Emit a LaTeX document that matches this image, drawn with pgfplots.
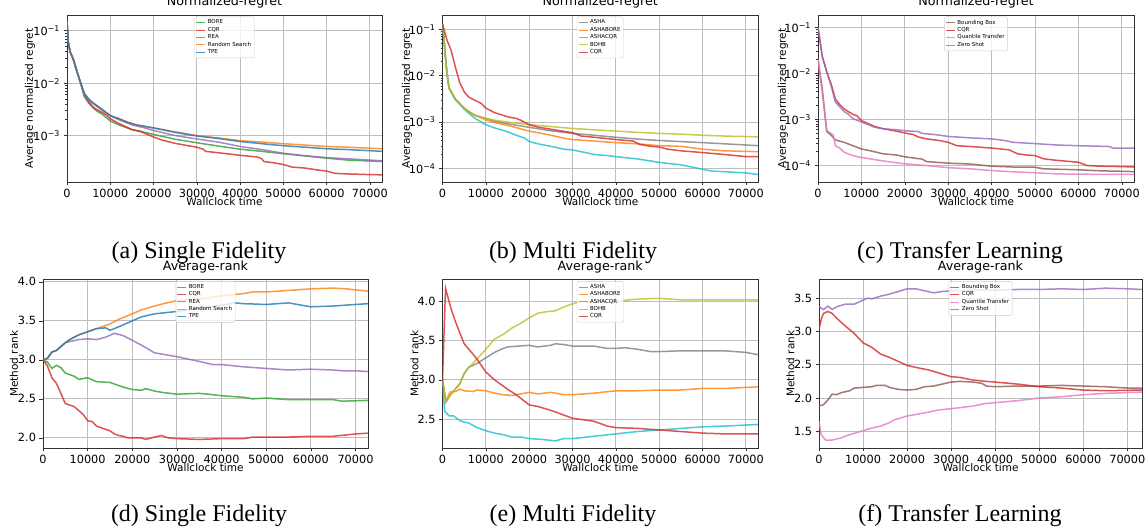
\documentclass[border=0pt]{standalone}
\usepackage{pgfplots}
\pgfplotsset{compat=1.18}
\usepackage{fontspec}
\setmainfont{DejaVu Sans}
\newfontfamily\capfont{Liberation Serif}
\definecolor{tabblue}{RGB}{31,119,180}
\definecolor{taborange}{RGB}{255,127,14}
\definecolor{tabgreen}{RGB}{44,160,44}
\definecolor{tabred}{RGB}{214,39,40}
\definecolor{tabpurple}{RGB}{148,103,189}
\definecolor{tabbrown}{RGB}{140,86,75}
\definecolor{tabpink}{RGB}{227,119,194}
\definecolor{tabgray}{RGB}{127,127,127}
\definecolor{tabolive}{RGB}{188,189,34}
\definecolor{tabcyan}{RGB}{23,190,207}
\definecolor{gridc}{RGB}{190,190,190}
\pgfplotsset{
  myBase/.style={
    scale only axis, xmin=0, xmax=72800,
    grid=major, major grid style={line width=0.9pt, gridc},
    axis line style={line width=0.8pt, black!80},
    tick align=outside, tick pos=left,
    major tick length=3.5pt, minor tick length=2pt,
    tick style={black!80, line width=0.6pt},
    xtick={0,10000,20000,30000,40000,50000,60000,70000},
    xticklabels={0,10000,20000,30000,40000,50000,60000,70000},
    scaled x ticks=false,
    ticklabel style={font=\fontsize{11.3}{12}\selectfont},
    label style={font=\fontsize{10.5}{12}\selectfont},
    title style={font=\fontsize{12.7}{14}\selectfont, at={(0.5,1)}, anchor=south, inner sep=0.3pt},
    xlabel={Wallclock time},
    xlabel style={at={([yshift=-20pt]axis description cs:0.5,0)}, anchor=center},
    legend cell align=left,
    legend image code/.code={\draw[##1, line width=1pt] (0pt,0pt) -- (9pt,0pt);},
    legend style={at={(0.5,0.99)}, anchor=north, font=\fontsize{5.5}{6}\selectfont,
      draw=black!20, fill=white, fill opacity=0.8, text opacity=1,
      rounded corners=1.5pt, inner sep=1pt, row sep=-2.2pt},
    every axis plot/.append style={line width=1.5pt, draw opacity=0.8},
  },
}
\begin{document}
\begin{tikzpicture}
\useasboundingbox (0,0) rectangle (1148pt,527pt);

% (a)
\begin{axis}[myBase, ymode=log, ylabel={Average normalized regret}, title={Normalized-regret},
  at={(67pt,345pt)}, width=315pt, height=167pt,
  ymin=1.3e-4, ymax=0.2, ytick={1e-3,1e-2,1e-1},
  yticklabels={10\textsuperscript{−3},10\textsuperscript{−2},10\textsuperscript{−1}},
  ylabel style={at={([xshift=-37pt]axis description cs:0,0.5)}, anchor=center}]
\addplot[tabgreen] coordinates {(0,0.15) (300,0.06) (700,0.04) (1500,0.028) (2000,0.02) (3000,0.011) (4000,0.0055) (5000,0.0042) (6000,0.0034) (7000,0.0029) (8000,0.0026) (10000,0.0019) (12000,0.0016) (15000,0.0013) (18000,0.00115) (20000,0.00105) (25000,0.00085) (30000,0.00073) (35000,0.00063) (40000,0.00055) (45000,0.0005) (50000,0.00045) (55000,0.00041) (60000,0.00037) (65000,0.00034) (72800,0.00032)};
\addlegendentry{BORE}
\addplot[tabred] coordinates {(0,0.15) (300,0.06) (700,0.04) (1500,0.028) (2000,0.02) (3000,0.011) (4000,0.006) (5000,0.0044) (6000,0.0035) (7000,0.0031) (8000,0.0028) (9000,0.0025) (10000,0.0021) (12000,0.0017) (15000,0.0013) (17000,0.0012) (18000,0.0011) (20000,0.00094) (22000,0.00082) (25000,0.00071) (28000,0.00064) (30000,0.0006) (31500,0.00055) (32000,0.0005) (35000,0.00047) (40000,0.00042) (44000,0.00039) (45000,0.00036) (45500,0.00032) (48000,0.0003) (50000,0.00028) (52000,0.00025) (55000,0.00024) (58000,0.00022) (60000,0.00021) (62000,0.00019) (65000,0.000185) (70000,0.00018) (72800,0.000178)};
\addlegendentry{CQR}
\addplot[tabpurple] coordinates {(0,0.15) (300,0.06) (700,0.04) (1500,0.028) (2000,0.02) (3000,0.011) (4000,0.006) (5000,0.0047) (6000,0.0041) (8000,0.0031) (10000,0.0024) (12000,0.002) (15000,0.0016) (18000,0.0014) (20000,0.00125) (25000,0.001) (30000,0.00086) (35000,0.00075) (40000,0.00062) (45000,0.00054) (50000,0.00046) (55000,0.00041) (60000,0.00038) (65000,0.00036) (72800,0.00033)};
\addlegendentry{REA}
\addplot[taborange] coordinates {(0,0.15) (300,0.06) (700,0.04) (1500,0.028) (2000,0.02) (3000,0.011) (4000,0.0064) (5000,0.005) (6000,0.0042) (8000,0.0032) (10000,0.0024) (12000,0.0021) (14000,0.0018) (16000,0.0016) (20000,0.0014) (25000,0.00118) (30000,0.001) (35000,0.0009) (40000,0.0008) (45000,0.00075) (50000,0.0007) (55000,0.00066) (60000,0.00062) (65000,0.0006) (72800,0.00056)};
\addlegendentry{Random Search}
\addplot[tabblue] coordinates {(0,0.15) (300,0.06) (700,0.04) (1500,0.028) (2000,0.02) (3000,0.011) (4000,0.0064) (5000,0.005) (6000,0.0042) (8000,0.0032) (10000,0.0024) (12000,0.0021) (14000,0.0018) (16000,0.0016) (20000,0.0014) (25000,0.00115) (30000,0.00098) (35000,0.00088) (40000,0.00077) (45000,0.0007) (50000,0.00064) (55000,0.0006) (60000,0.00056) (65000,0.00054) (72800,0.0005)};
\addlegendentry{TPE}
\end{axis}

% (b)
\begin{axis}[myBase, ymode=log, ylabel={Average normalized regret}, title={Normalized-regret},
  at={(442.5pt,345pt)}, width=315.5pt, height=167pt,
  ymin=5.1e-5, ymax=0.204, ytick={1e-4,1e-3,1e-2,1e-1},
  yticklabels={10\textsuperscript{−4},10\textsuperscript{−3},10\textsuperscript{−2},10\textsuperscript{−1}},
  ylabel style={at={([xshift=-35.5pt]axis description cs:0,0.5)}, anchor=center}]
\addplot[tabgray] coordinates {(0,0.13) (300,0.07) (600,0.03) (1000,0.012) (1500,0.0055) (2000,0.0045) (3000,0.0031) (4000,0.0025) (5000,0.002) (6000,0.0017) (7500,0.0014) (10000,0.0012) (12000,0.00105) (15000,0.00092) (20000,0.00077) (25000,0.00065) (30000,0.00057) (35000,0.00052) (40000,0.00047) (45000,0.00043) (50000,0.0004) (55000,0.00038) (60000,0.00036) (65000,0.00034) (72800,0.00031)};
\addlegendentry{ASHA}
\addplot[taborange] coordinates {(0,0.13) (300,0.07) (600,0.03) (1000,0.012) (1500,0.0055) (2000,0.0045) (3000,0.0031) (4000,0.0025) (5000,0.002) (6000,0.0017) (7500,0.0014) (10000,0.00112) (12000,0.00098) (15000,0.00085) (20000,0.00064) (25000,0.00052) (28000,0.00045) (30000,0.00042) (35000,0.00039) (40000,0.00036) (45000,0.00034) (50000,0.00031) (55000,0.0003) (60000,0.00026) (65000,0.00024) (72800,0.00023)};
\addlegendentry{ASHABORE}
\addplot[tabcyan] coordinates {(0,0.13) (300,0.07) (600,0.03) (1000,0.012) (1500,0.0055) (2000,0.0044) (3000,0.003) (4000,0.0024) (5000,0.0019) (7500,0.0012) (10000,0.00088) (12000,0.00075) (15000,0.00062) (17000,0.00052) (19000,0.00045) (20000,0.00038) (22000,0.00034) (25000,0.0003) (28000,0.00026) (30000,0.00025) (33000,0.00022) (35000,0.0002) (38000,0.00019) (40000,0.00018) (45000,0.00016) (48000,0.000145) (50000,0.000135) (53000,0.000125) (55000,0.00012) (58000,0.000105) (60000,0.000096) (62000,0.000088) (65000,0.000085) (70000,0.00008) (72800,0.000074)};
\addlegendentry{ASHACQR}
\addplot[tabolive] coordinates {(0,0.13) (300,0.07) (600,0.03) (1000,0.012) (1500,0.0055) (2000,0.0045) (3000,0.0031) (4000,0.0025) (5000,0.002) (6000,0.0017) (7500,0.0014) (10000,0.0012) (12000,0.0011) (15000,0.001) (20000,0.00088) (25000,0.0008) (30000,0.00073) (35000,0.00068) (40000,0.00064) (45000,0.0006) (50000,0.00057) (55000,0.00055) (60000,0.00052) (65000,0.0005) (72800,0.00048)};
\addlegendentry{BOHB}
\addplot[tabred] coordinates {(0,0.13) (1000,0.06) (2000,0.035) (3000,0.015) (4000,0.007) (5000,0.0045) (6000,0.0035) (7000,0.0031) (8000,0.0028) (9000,0.0025) (10000,0.002) (12000,0.0016) (15000,0.0013) (17000,0.0012) (18000,0.0011) (20000,0.00088) (22000,0.00078) (25000,0.0007) (28000,0.00063) (30000,0.00059) (32000,0.0005) (35000,0.00047) (40000,0.00042) (44000,0.00039) (45500,0.00033) (48000,0.0003) (50000,0.00029) (52000,0.00026) (55000,0.00024) (60000,0.00022) (65000,0.0002) (70000,0.00018) (72800,0.00018)};
\addlegendentry{CQR}
\end{axis}

% (c)
\begin{axis}[myBase, ymode=log, ylabel={Average normalized regret}, title={Normalized-regret},
  at={(818pt,345pt)}, width=316pt, height=167pt,
  ymin=4.4e-5, ymax=0.186, ytick={1e-4,1e-3,1e-2,1e-1},
  yticklabels={10\textsuperscript{−4},10\textsuperscript{−3},10\textsuperscript{−2},10\textsuperscript{−1}},
  ylabel style={at={([xshift=-35pt]axis description cs:0,0.5)}, anchor=center}]
\addplot[tabbrown] coordinates {(0,0.02) (1000,0.0045) (2000,0.00055) (3000,0.00046) (4000,0.00036) (6000,0.00032) (8000,0.00027) (10000,0.00023) (12000,0.00021) (15000,0.00018) (18000,0.00017) (20000,0.000155) (24000,0.000138) (25000,0.000122) (30000,0.000113) (35000,0.000108) (40000,0.000097) (45000,0.000093) (50000,0.000092) (52000,0.000085) (60000,0.000081) (65000,0.000077) (72900,0.000074)};
\addlegendentry{Bounding Box}
\addplot[tabred] coordinates {(0,0.1) (1000,0.023) (2000,0.011) (3000,0.006) (4000,0.0028) (5000,0.0021) (6000,0.0017) (8000,0.0013) (9000,0.0012) (10000,0.00095) (12000,0.00078) (13000,0.00071) (15000,0.00063) (18000,0.00056) (20000,0.00051) (22000,0.00047) (23000,0.00042) (25000,0.00038) (28000,0.00035) (30000,0.00032) (32000,0.00027) (35000,0.00026) (40000,0.00024) (44000,0.00022) (46000,0.00018) (48000,0.00017) (50000,0.000165) (52000,0.00014) (55000,0.00013) (60000,0.000118) (62000,0.0001) (65000,0.000097) (70000,0.000095) (72900,0.000093)};
\addlegendentry{CQR}
\addplot[tabpink] coordinates {(0,0.02) (1000,0.0037) (2000,0.00058) (3000,0.0005) (3500,0.00046) (4000,0.00027) (5000,0.00024) (6000,0.000195) (8000,0.000165) (10000,0.00015) (15000,0.000126) (20000,0.000109) (25000,0.0001) (30000,0.00009) (35000,0.000085) (40000,0.000078) (45000,0.000073) (50000,0.00007) (55000,0.000066) (60000,0.000065) (72900,0.000064)};
\addlegendentry{Quantile Transfer}
\addplot[tabpurple] coordinates {(0,0.1) (1000,0.023) (2000,0.011) (3000,0.0055) (4000,0.0024) (5000,0.0019) (6000,0.0015) (7000,0.0013) (8000,0.00105) (10000,0.00088) (12000,0.00075) (13000,0.00068) (15000,0.00063) (18000,0.0006) (20000,0.00057) (23000,0.00055) (24000,0.0005) (27000,0.00047) (30000,0.00043) (35000,0.0004) (40000,0.00038) (43000,0.00035) (45000,0.00032) (50000,0.0003) (55000,0.00028) (60000,0.00027) (67000,0.00026) (68000,0.00024) (72900,0.00024)};
\addlegendentry{Zero Shot}
\end{axis}

% (d)
\begin{axis}[myBase, ylabel={Method rank}, title={Average-rank},
  at={(43pt,79pt)}, width=325pt, height=168.5pt,
  ymin=1.87, ymax=4.03, ytick={2.0,2.5,3.0,3.5,4.0}, yticklabels={2.0,2.5,3.0,3.5,4.0},
  ylabel style={at={([xshift=-29pt]axis description cs:0,0.5)}, anchor=center}]
\addplot[tabgreen] coordinates {(0,3.0) (1000,2.97) (2000,2.89) (3000,2.93) (4000,2.9) (5000,2.83) (7000,2.79) (8000,2.75) (10000,2.77) (12000,2.72) (15000,2.71) (16000,2.69) (18000,2.65) (20000,2.62) (22000,2.61) (23000,2.63) (25000,2.6) (27000,2.58) (30000,2.56) (35000,2.57) (37000,2.56) (40000,2.54) (45000,2.52) (47000,2.5) (50000,2.51) (55000,2.49) (60000,2.49) (65000,2.49) (67000,2.47) (72800,2.48)};
\addlegendentry{BORE}
\addplot[tabred] coordinates {(0,3.0) (1000,2.92) (2000,2.77) (3000,2.7) (4000,2.57) (5000,2.44) (7000,2.4) (8000,2.35) (9000,2.3) (10000,2.22) (11000,2.21) (12000,2.15) (14000,2.11) (15000,2.09) (16000,2.05) (17000,2.03) (18000,2.02) (19000,2.0) (20000,2.0) (22000,2.0) (23000,1.98) (25000,2.01) (26500,2.03) (28000,2.0) (30000,1.99) (35000,1.98) (40000,1.99) (45000,1.99) (47000,2.01) (50000,2.01) (55000,2.01) (60000,2.02) (65000,2.02) (70000,2.05) (72800,2.06)};
\addlegendentry{CQR}
\addplot[tabpurple] coordinates {(0,3.0) (1000,3.02) (2000,3.1) (3000,3.12) (5000,3.22) (8000,3.26) (10000,3.27) (12000,3.26) (14000,3.29) (16000,3.34) (18000,3.31) (20000,3.25) (22000,3.19) (25000,3.09) (27000,3.07) (30000,3.04) (35000,2.98) (38000,2.94) (40000,2.94) (45000,2.91) (50000,2.89) (55000,2.87) (60000,2.88) (65000,2.87) (67000,2.86) (70000,2.86) (72800,2.85)};
\addlegendentry{REA}
\addplot[taborange] coordinates {(0,3.0) (1000,3.02) (2000,3.1) (3000,3.12) (5000,3.22) (6000,3.26) (8000,3.32) (10000,3.36) (12000,3.4) (15000,3.46) (17000,3.52) (20000,3.59) (22000,3.64) (25000,3.69) (27000,3.72) (30000,3.76) (35000,3.78) (40000,3.82) (45000,3.85) (47000,3.87) (50000,3.87) (55000,3.89) (60000,3.91) (65000,3.92) (68000,3.91) (72800,3.88)};
\addlegendentry{Random Search}
\addplot[tabblue] coordinates {(0,3.0) (1000,3.02) (2000,3.1) (3000,3.12) (5000,3.22) (6000,3.26) (8000,3.32) (10000,3.36) (12000,3.4) (14000,3.41) (15000,3.38) (16000,3.4) (18000,3.45) (20000,3.5) (22000,3.55) (25000,3.59) (30000,3.62) (35000,3.66) (40000,3.7) (43000,3.73) (45000,3.72) (50000,3.71) (55000,3.73) (58000,3.7) (60000,3.68) (65000,3.69) (70000,3.71) (72800,3.72)};
\addlegendentry{TPE}
\end{axis}

% (e)
\begin{axis}[myBase, ylabel={Method rank}, title={Average-rank},
  at={(442.5pt,79pt)}, width=315.5pt, height=168.5pt,
  ymin=2.13, ymax=4.28, ytick={2.5,3.0,3.5,4.0}, yticklabels={2.5,3.0,3.5,4.0},
  ylabel style={at={([xshift=-28pt]axis description cs:0,0.5)}, anchor=center}]
\addplot[tabgray] coordinates {(0,3.0) (800,2.72) (2000,2.82) (4000,2.95) (5000,3.08) (6000,3.16) (8000,3.21) (10000,3.28) (12000,3.35) (14000,3.4) (15000,3.42) (20000,3.44) (22000,3.42) (25000,3.44) (26000,3.46) (28000,3.45) (30000,3.43) (35000,3.43) (38000,3.4) (40000,3.4) (42000,3.41) (45000,3.39) (48000,3.36) (50000,3.36) (55000,3.37) (60000,3.37) (65000,3.37) (70000,3.35) (72800,3.32)};
\addlegendentry{ASHA}
\addplot[taborange] coordinates {(0,3.0) (800,2.72) (1500,2.82) (2000,2.85) (3000,2.85) (4000,2.88) (5000,2.86) (7000,2.85) (8000,2.87) (10000,2.86) (12000,2.83) (14000,2.81) (16000,2.8) (18000,2.82) (20000,2.84) (22000,2.82) (25000,2.84) (28000,2.81) (30000,2.81) (35000,2.83) (40000,2.86) (45000,2.86) (50000,2.87) (55000,2.87) (60000,2.89) (65000,2.89) (72800,2.91)};
\addlegendentry{ASHABORE}
\addplot[tabcyan] coordinates {(0,3.0) (500,2.6) (1500,2.54) (2500,2.54) (4000,2.48) (5000,2.46) (6000,2.45) (8000,2.39) (10000,2.35) (12000,2.32) (14000,2.3) (16000,2.27) (18000,2.27) (20000,2.25) (23000,2.24) (26000,2.22) (28000,2.25) (30000,2.25) (35000,2.28) (40000,2.31) (45000,2.34) (50000,2.36) (55000,2.38) (60000,2.4) (65000,2.41) (72800,2.43)};
\addlegendentry{ASHACQR}
\addplot[tabolive] coordinates {(0,3.0) (800,2.72) (2000,2.82) (4000,2.95) (5000,3.08) (6000,3.15) (8000,3.27) (10000,3.39) (12000,3.52) (14000,3.58) (16000,3.66) (18000,3.72) (20000,3.79) (22000,3.85) (24000,3.87) (26000,3.88) (28000,3.93) (30000,3.97) (32000,4.0) (35000,3.99) (40000,4.0) (43000,4.02) (45000,4.03) (50000,4.04) (55000,4.02) (60000,4.02) (65000,4.02) (72800,4.02)};
\addlegendentry{BOHB}
\addplot[tabred] coordinates {(0,3.0) (700,4.17) (2000,3.9) (3000,3.74) (4000,3.6) (5000,3.46) (7000,3.33) (8000,3.26) (10000,3.1) (12000,3.0) (15000,2.88) (17000,2.81) (20000,2.68) (22000,2.66) (25000,2.61) (27000,2.57) (30000,2.51) (35000,2.47) (38000,2.41) (40000,2.39) (45000,2.38) (50000,2.36) (55000,2.34) (60000,2.32) (65000,2.31) (72800,2.31)};
\addlegendentry{CQR}
\end{axis}

% (f)
\begin{axis}[myBase, ylabel={Method rank}, title={Average-rank},
  at={(819pt,79pt)}, width=323pt, height=168.5pt, xmax=73340,
  ymin=1.25, ymax=3.78, ytick={1.5,2.0,2.5,3.0,3.5}, yticklabels={1.5,2.0,2.5,3.0,3.5},
  ylabel style={at={([xshift=-28.5pt]axis description cs:0,0.5)}, anchor=center}]
\addplot[tabbrown] coordinates {(0,1.88) (1000,1.9) (2000,1.97) (3000,2.06) (4000,2.05) (5000,2.08) (7000,2.11) (8000,2.15) (10000,2.16) (12000,2.17) (13000,2.19) (15000,2.19) (16000,2.16) (18000,2.13) (20000,2.12) (22000,2.13) (24000,2.17) (26000,2.18) (28000,2.21) (30000,2.24) (32000,2.25) (35000,2.24) (37000,2.22) (38000,2.18) (40000,2.17) (45000,2.18) (50000,2.18) (55000,2.19) (60000,2.18) (65000,2.17) (70000,2.15) (73340,2.15)};
\addlegendentry{Bounding Box}
\addplot[tabred] coordinates {(0,3.03) (500,3.18) (1000,3.27) (2000,3.3) (3000,3.27) (4000,3.2) (6000,3.08) (8000,2.97) (10000,2.83) (12000,2.76) (14000,2.66) (16000,2.61) (18000,2.55) (20000,2.49) (22000,2.46) (25000,2.42) (27000,2.38) (30000,2.32) (32000,2.31) (35000,2.27) (38000,2.25) (40000,2.24) (45000,2.21) (50000,2.17) (55000,2.15) (60000,2.12) (65000,2.11) (73340,2.12)};
\addlegendentry{CQR}
\addplot[tabpink] coordinates {(0,1.65) (500,1.45) (1500,1.37) (3000,1.37) (5000,1.4) (6000,1.43) (8000,1.47) (10000,1.51) (12000,1.55) (14000,1.58) (16000,1.63) (17000,1.67) (20000,1.73) (25000,1.79) (27000,1.82) (30000,1.84) (35000,1.88) (38000,1.92) (40000,1.93) (45000,1.96) (50000,2.0) (55000,2.02) (60000,2.05) (65000,2.07) (73340,2.09)};
\addlegendentry{Quantile Transfer}
\addplot[tabpurple] coordinates {(0,3.38) (500,3.35) (1000,3.33) (2000,3.38) (3000,3.33) (4000,3.37) (5000,3.39) (6000,3.41) (8000,3.41) (10000,3.47) (11000,3.5) (12000,3.49) (14000,3.53) (16000,3.56) (18000,3.6) (20000,3.64) (22000,3.64) (24000,3.61) (26000,3.58) (28000,3.6) (30000,3.61) (35000,3.62) (40000,3.62) (45000,3.63) (50000,3.63) (55000,3.64) (60000,3.63) (65000,3.65) (70000,3.64) (73340,3.63)};
\addlegendentry{Zero Shot}
\end{axis}

\begin{scope}[every node/.style={font=\capfont\fontsize{24}{26}\selectfont, anchor=base}]
\node at (199pt,268pt) {(a) Single Fidelity};
\node at (573pt,268pt) {(b) Multi Fidelity};
\node at (960pt,268pt) {(c) Transfer Learning};
\node at (199pt,5pt) {(d) Single Fidelity};
\node at (573pt,5pt) {(e) Multi Fidelity};
\node at (960pt,5pt) {(f) Transfer Learning};
\end{scope}
\end{tikzpicture}
\end{document}
